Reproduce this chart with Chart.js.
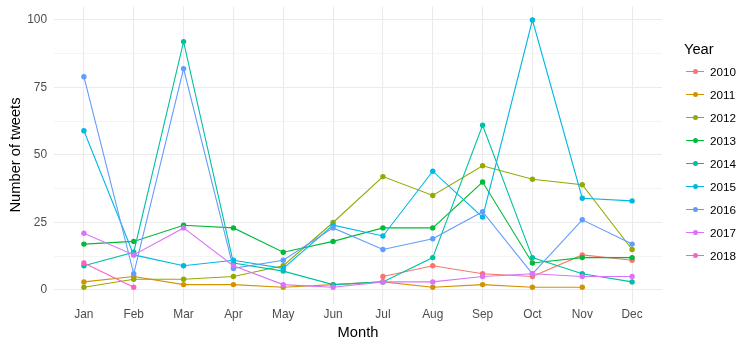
<!DOCTYPE html>
<html>
<head>
<meta charset="utf-8">
<script src="https://cdn.jsdelivr.net/npm/chart.js@4.4.1/dist/chart.umd.min.js"></script>
<style>
  body { margin: 0; background: #fff; }
  #wrap { position: relative; width: 753px; height: 344px; }
  #legend { position: absolute; left: 0; top: 0; font-family: 'Liberation Sans', Arial, sans-serif; color: #000; }
  #legend .title { position: absolute; left: 684px; top: 40px; font-size: 14.7px; line-height: 18px; white-space: nowrap; }
  #legend .item { position: absolute; left: 686px; height: 23px; width: 60px; }
  #legend .key { position: absolute; left: 0; top: 11px; width: 18px; height: 1.1px; }
  #legend .dot { position: absolute; left: 6.5px; top: 9px; width: 5px; height: 5px; border-radius: 50%; }
  #legend .lab { position: absolute; left: 24px; top: 0; font-size: 11.7px; line-height: 23px; }
</style>
</head>
<body>
<div id="wrap">
  <canvas id="myChart" width="753" height="344"></canvas>
  <div id="legend"></div>
</div>
<script>
/* globals Chart:false */

// Monthly tweet counts per year
const months = ['Jan', 'Feb', 'Mar', 'Apr', 'May', 'Jun', 'Jul', 'Aug', 'Sep', 'Oct', 'Nov', 'Dec']
const years = ['2010', '2011', '2012', '2013', '2014', '2015', '2016', '2017', '2018']
const yTicks = [0, 25, 50, 75, 100]

const tweets2010 = [null, null, null, null, null, null, 5, 9, 6, 5, 13, 11]
const tweets2011 = [3, 5, 2, 2, 1, 2, 3, 1, 2, 1, 1, null]
const tweets2012 = [1, 4, 4, 5, 9, 25, 42, 35, 46, 41, 39, 15]
const tweets2013 = [17, 18, 24, 23, 14, 18, 23, 23, 40, 10, 12, 12]
const tweets2014 = [9, 14, 92, 10, 7, 2, 3, 12, 61, 12, 6, 3]
const tweets2015 = [59, 13, 9, 11, 8, 24, 20, 44, 27, 100, 34, 33]
const tweets2016 = [79, 6, 82, 8, 11, 23, 15, 19, 29, 6, 26, 17]
const tweets2017 = [21, 13, 23, 9, 2, 1, 3, 3, 5, 6, 5, 5]
const tweets2018 = [10, 1, null, null, null, null, null, null, null, null, null, null]

const series = [tweets2010, tweets2011, tweets2012, tweets2013, tweets2014,
  tweets2015, tweets2016, tweets2017, tweets2018]
const colors = ['#F8766D', '#D39200', '#93AA00', '#00BA38', '#00C19F',
  '#00B9E3', '#619CFF', '#DB72FB', '#FF61C3']

;(() => {
  'use strict'

  Chart.defaults.font.family = "'Liberation Sans', Arial, sans-serif"
  Chart.defaults.color = '#4D4D4D'

  const gridColor = '#EBEBEB'
  // minor lines halfway between the labelled ones
  const yGrid = []
  for (let i = 0; i < yTicks.length; i++) {
    yGrid.push(yTicks[i])
    if (i < yTicks.length - 1) yGrid.push((yTicks[i] + yTicks[i + 1]) / 2)
  }
  yGrid.sort((a, b) => a - b)

  const datasets = years.map((year, i) => ({
    label: year,
    data: series[i].map((v, m) => ({ x: m, y: v })),
    borderColor: colors[i],
    backgroundColor: colors[i],
    pointBackgroundColor: colors[i],
    pointBorderWidth: 0,
    pointRadius: 2.7,
    borderWidth: 1.1,
    tension: 0,
    spanGaps: false,
    order: years.length - i  // later years drawn on top
  }))

  // the panel has its own margins, so labels at the ends need no extra room
  const noEdgePadding = (scale) => {
    scale.paddingTop = 0
    scale.paddingBottom = 0
    scale.paddingLeft = 0
    scale.paddingRight = 0
  }

  const ctx = document.getElementById('myChart')
  // eslint-disable-next-line no-unused-vars
  const myChart = new Chart(ctx, {
    type: 'line',
    data: { datasets },
    options: {
      responsive: false,
      animation: false,
      layout: { padding: { top: 6.5, right: 91, left: 0, bottom: 0 } },
      plugins: {
        legend: { display: false },
        tooltip: { enabled: false }
      },
      scales: {
        x: {
          type: 'linear',
          min: -0.6,
          max: 11.6,
          afterBuildTicks: (scale) => { scale.ticks = months.map((m, i) => ({ value: i })) },
          afterFit: (scale) => { scale.height = 40.5; noEdgePadding(scale) },
          ticks: {
            autoSkip: false,
            maxRotation: 0,
            padding: 4,
            color: '#4D4D4D',
            font: { size: 11.9 },
            callback: (v) => months[v]
          },
          grid: { color: gridColor, lineWidth: 1.07, drawTicks: false },
          border: { display: false },
          title: {
            display: true,
            text: 'Month',
            color: '#000',
            font: { size: 14.7 },
            padding: { top: 0, bottom: 2 }
          }
        },
        y: {
          min: -5,
          max: 105,
          afterBuildTicks: (scale) => { scale.ticks = yGrid.map((v) => ({ value: v })) },
          afterFit: (scale) => { scale.width = 54; noEdgePadding(scale) },
          ticks: {
            autoSkip: false,
            padding: 7,
            color: '#4D4D4D',
            font: { size: 11.9 },
            callback: (v) => (yTicks.includes(v) ? String(v) : '')
          },
          grid: {
            color: gridColor,
            lineWidth: (c) => (c.tick && !yTicks.includes(c.tick.value) ? 0.55 : 1.07),
            drawTicks: false
          },
          border: { display: false },
          title: {
            display: true,
            text: 'Number of tweets',
            color: '#000',
            font: { size: 14.7 },
            padding: { top: 7, bottom: 0 }
          }
        }
      }
    }
  })

  // Legend: line with a point through it, like the plotted marks
  const legend = document.getElementById('legend')
  const title = document.createElement('div')
  title.className = 'title'
  title.textContent = 'Year'
  legend.appendChild(title)
  myChart.data.datasets.forEach((ds, i) => {
    const item = document.createElement('div')
    item.className = 'item'
    item.style.top = (60.2 + 23 * i) + 'px'
    item.innerHTML = '<span class="key" style="background:' + ds.borderColor + '"></span>' +
      '<span class="dot" style="background:' + ds.borderColor + '"></span>' +
      '<span class="lab">' + ds.label + '</span>'
    legend.appendChild(item)
  })
})()
</script>
</body>
</html>
